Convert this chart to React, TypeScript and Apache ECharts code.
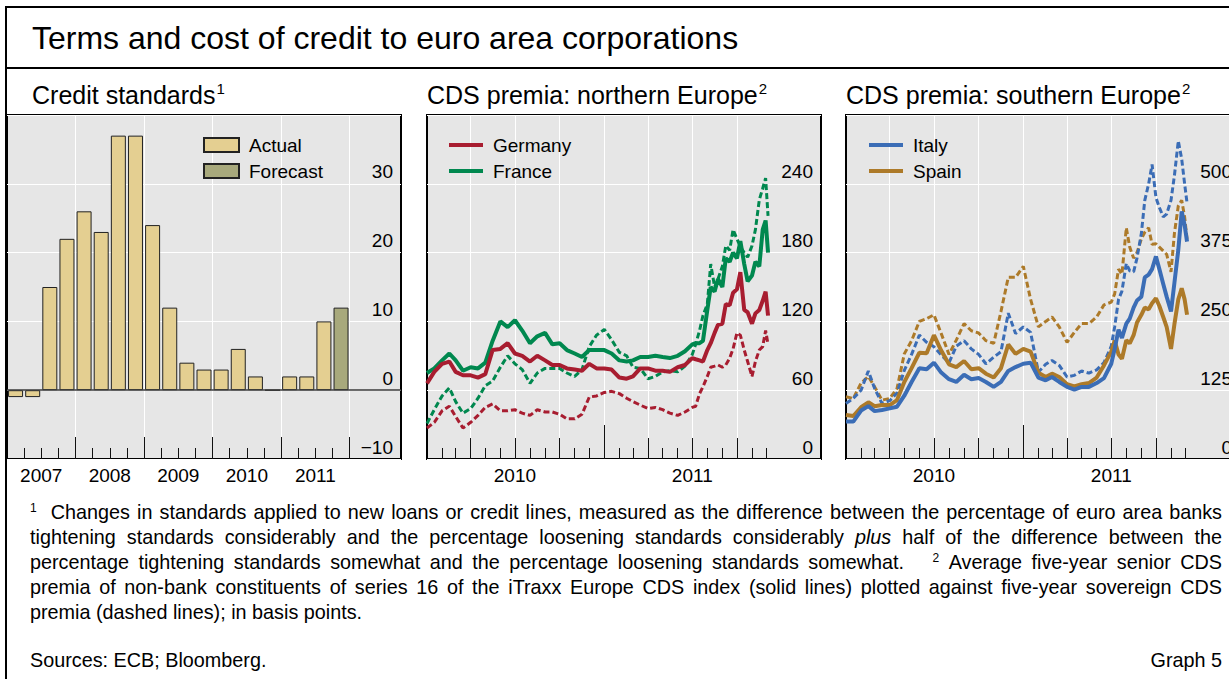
import React, { useEffect, useRef } from 'react';
import * as echarts from 'echarts';

const FONT = '"Liberation Sans", Arial, Helvetica, sans-serif';

// ---------- Panel 1: credit standards (quarterly) ----------
const quarters = [
  '2007 Q1', '2007 Q2', '2007 Q3', '2007 Q4',
  '2008 Q1', '2008 Q2', '2008 Q3', '2008 Q4',
  '2009 Q1', '2009 Q2', '2009 Q3', '2009 Q4',
  '2010 Q1', '2010 Q2', '2010 Q3', '2010 Q4',
  '2011 Q1', '2011 Q2', '2011 Q3', '2011 Q4',
];
const creditActual = [-1, -1, 15, 22, 26, 23, 37, 37, 24, 12, 4, 3, 3, 6, 2, 0, 2, 2, 10, null];
const creditForecast = [null, null, null, null, null, null, null, null, null, null, null, null, null, null, null, null, null, null, null, 12];

// ---------- Panels 2 and 3: CDS premia (basis points) ----------
const cdsDates = [
  '2010-01-01', '2010-01-16', '2010-02-01', '2010-02-16', '2010-03-01', '2010-03-16', '2010-04-01', '2010-04-16', '2010-05-01', '2010-05-16',
  '2010-06-01', '2010-06-16', '2010-07-01', '2010-07-16', '2010-08-01', '2010-08-16', '2010-09-01', '2010-09-16', '2010-10-01', '2010-10-16',
  '2010-11-01', '2010-11-16', '2010-12-01', '2010-12-16', '2011-01-01', '2011-01-16', '2011-02-01', '2011-02-16', '2011-03-01', '2011-03-16',
  '2011-04-01', '2011-04-16', '2011-05-01', '2011-05-16', '2011-06-01', '2011-06-16',
  '2011-07-01', '2011-07-08', '2011-07-16', '2011-07-23', '2011-08-01', '2011-08-08', '2011-08-16', '2011-08-23', '2011-09-01', '2011-09-08',
  '2011-09-16', '2011-09-23', '2011-10-01', '2011-10-08', '2011-10-16', '2011-10-23', '2011-11-01', '2011-11-08', '2011-11-16', '2011-11-23',
  '2011-11-29', '2011-12-04',
];
// corporate (solid)
const germanyCorp = [66, 76, 83, 85, 76, 73, 73, 71, 74, 95, 96, 101, 92, 90, 85, 90, 86, 82, 82, 79, 78, 77, 83, 79, 79, 78, 71, 70, 72, 79, 79, 77, 77, 76, 80, 82,
  88, 87, 86, 85, 95, 101, 110, 117, 118, 135, 134, 145, 148, 163, 130, 128, 118, 127, 130, 138, 146, 125];
const franceCorp = [75, 79, 86, 92, 86, 77, 80, 79, 84, 103, 120, 115, 121, 112, 101, 107, 110, 100, 101, 95, 92, 89, 95, 95, 95, 92, 86, 85, 86, 89, 89, 90, 89, 88, 90, 94,
  100, 101, 101, 103, 130, 150, 146, 157, 150, 175, 172, 180, 175, 190, 170, 155, 160, 172, 168, 200, 208, 180];
// sovereign (dashed)
const germanySov = [27, 32, 42, 46, 37, 27, 32, 38, 45, 48, 42, 42, 43, 40, 38, 43, 41, 41, 39, 35, 35, 39, 54, 55, 58, 59, 57, 53, 50, 47, 44, 45, 43, 40, 38, 41,
  45, 46, 57, 63, 72, 80, 81, 82, 80, 82, 88, 96, 110, 108, 95, 85, 72, 85, 95, 98, 112, 100];
const franceSov = [31, 43, 55, 62, 50, 40, 44, 53, 64, 68, 80, 90, 83, 78, 66, 75, 79, 79, 79, 75, 72, 78, 98, 108, 113, 104, 93, 90, 80, 79, 70, 72, 76, 77, 76, 81,
  91, 100, 112, 125, 135, 170, 150, 157, 168, 186, 182, 200, 192, 185, 180, 176, 186, 200, 226, 236, 245, 212];
const italyCorp = [68, 68, 88, 96, 87, 89, 92, 95, 115, 140, 165, 163, 175, 157, 145, 140, 153, 145, 147, 140, 131, 140, 160, 167, 173, 175, 148, 143, 149, 140, 131, 126, 131, 131, 138, 147,
  173, 200, 235, 220, 246, 255, 275, 288, 295, 330, 335, 345, 368, 345, 318, 295, 268, 320, 380, 450, 425, 395];
const spainCorp = [80, 78, 94, 103, 96, 98, 98, 107, 140, 165, 193, 192, 225, 197, 172, 167, 178, 163, 165, 155, 148, 165, 208, 191, 200, 195, 157, 149, 155, 149, 136, 132, 136, 138, 148, 170,
  195, 215, 190, 182, 216, 210, 225, 248, 262, 275, 272, 283, 292, 278, 258, 240, 200, 245, 290, 310, 290, 262];
const italySov = [101, 110, 125, 160, 128, 101, 106, 120, 161, 190, 225, 212, 204, 189, 175, 205, 215, 200, 190, 173, 185, 195, 265, 228, 240, 230, 158, 172, 179, 170, 149, 152, 160, 156, 162, 175,
  205, 240, 290, 305, 355, 342, 340, 365, 410, 470, 500, 535, 475, 457, 440, 445, 470, 515, 578, 545, 500, 465];
const spainSov = [113, 110, 138, 150, 131, 107, 110, 128, 191, 215, 250, 255, 262, 228, 190, 216, 246, 233, 229, 215, 210, 268, 330, 330, 350, 290, 240, 250, 258, 240, 212, 230, 246, 246, 258, 280,
  285, 300, 345, 336, 420, 385, 365, 375, 400, 412, 420, 390, 391, 385, 378, 372, 340, 410, 460, 470, 440, 400];

const footnoteLines = [
  'Changes in standards applied to new loans or credit lines, measured as the difference between the percentage of euro area banks',
  'tightening standards considerably and the percentage loosening standards considerably |plus| half of the difference between the',
  'percentage tightening standards somewhat and the percentage loosening standards somewhat.',
  'Average five-year senior CDS',
  'premia of non-bank constituents of series 16 of the iTraxx Europe CDS index (solid lines) plotted against five-year sovereign CDS',
  'premia (dashed lines); in basis points.',
];

const COLORS = {
  germany: '#A81D30',
  france: '#00884F',
  italy: '#3B6DB6',
  spain: '#AD7A29',
  actual: '#E4CF91',
  forecast: '#A8A97C',
  plot: '#E6E6E6',
};

const parseDay = (s: string) => {
  const [y, m, d] = s.split('-').map(Number);
  return new Date(y, m - 1, d).getTime();
};

function buildOption() {
  const grids = [7, 427, 846].map((left) => ({
    left, top: 115, width: 394, height: 344,
    show: true, backgroundColor: COLORS.plot, borderColor: '#000', borderWidth: 2,
    containLabel: false, outerBoundsMode: 'none',
  }));

  const tickStyle = (len: number) => ({ show: true, inside: true, length: len, lineStyle: { color: '#111', width: 1 } });
  const labelBase = { fontSize: 19, color: '#000', fontFamily: FONT, margin: 7 };

  // Panel 1 x axes (quarter units)
  const n = quarters.length + 3;
  const longQ: number[] = [];
  const shortQ: number[] = [];
  const labelQ: number[] = [];
  quarters.forEach((q, i) => {
    if (q.endsWith('Q3')) labelQ.push(i);
    if (i === 0) return;
    if (q.endsWith('Q1')) longQ.push(i); else shortQ.push(i);
  });
  longQ.push(quarters.length);

  const baseX = (gridIndex: number, min: number, max: number) => ({
    type: 'value', gridIndex, min, max, position: 'bottom',
    axisLine: { show: false, onZero: false },
    splitLine: { show: false },
    axisLabel: { show: false },
    axisTick: { show: false },
  });

  const xAxes: any[] = [];
  // 0: panel 1 main
  xAxes.push({
    ...baseX(0, 0, n),
    axisTick: { ...tickStyle(22), customValues: longQ },
    splitLine: { show: true, lineStyle: { color: '#fff', width: 1 } },
    axisLabel: { ...labelBase, show: true, customValues: labelQ, formatter: (v: number) => quarters[Math.round(v)].slice(0, 4) },
  });
  // 1: panel 1 short ticks
  xAxes.push({ ...baseX(0, 0, n), axisTick: { ...tickStyle(11), customValues: shortQ } });

  // Date axes for panels 2 & 3 (timestamps on value axes)
  const tMin = parseDay('2010-01-01');
  const tMax = parseDay('2012-03-22');
  const shortM: number[] = [];
  const longM: number[] = [];
  for (let y = 2010; y <= 2011; y++) {
    for (let m = 1; m <= 12; m++) {
      if (y === 2010 && m === 1) continue;
      const t = parseDay(`${y}-${m}-1`);
      if (m === 1 || m === 4 || m === 7 || m === 10) longM.push(t); else shortM.push(t);
    }
  }
  const yearStart = [parseDay('2011-01-01')];
  const labelM = [parseDay('2010-07-01'), parseDay('2011-07-01')];

  [1, 2].forEach((g) => {
    xAxes.push({
      ...baseX(g, tMin, tMax),
      axisTick: { ...tickStyle(21), customValues: longM },
      splitLine: { show: true, lineStyle: { color: '#fff', width: 1 } },
      axisLabel: { ...labelBase, show: true, customValues: labelM, formatter: (v: number) => String(new Date(v).getFullYear()) },
    });
    xAxes.push({ ...baseX(g, tMin, tMax), axisTick: { ...tickStyle(11), customValues: shortM } });
    xAxes.push({ ...baseX(g, tMin, tMax), axisTick: { ...tickStyle(34), customValues: yearStart } });
  });

  const yAxis = (gridIndex: number, min: number, max: number, interval: number) => ({
    type: 'value', gridIndex, min, max, interval, position: 'right',
    axisLine: { show: false }, axisTick: { show: false },
    splitLine: { show: true, lineStyle: { color: '#fff', width: 1 } },
    axisLabel: {
      inside: true, margin: 8, fontSize: 19, color: '#000', fontFamily: FONT,
      verticalAlign: 'bottom', lineHeight: 24, showMaxLabel: false,
      formatter: (v: number) => (v < 0 ? '\u2212' + Math.abs(v) : String(v)),
    },
  });

  const toPairs = (vals: number[]) => vals.map((v, i) => [parseDay(cdsDates[i]), v]);
  const solid = (name: string, color: string, vals: number[], x: number, y: number) => ({
    name, type: 'line', xAxisIndex: x, yAxisIndex: y, data: toPairs(vals),
    showSymbol: false, symbol: 'none', lineStyle: { color, width: 4 }, itemStyle: { color }, z: 3,
  });
  const dashed = (name: string, color: string, vals: number[], x: number, y: number) => ({
    name, type: 'line', xAxisIndex: x, yAxisIndex: y, data: toPairs(vals),
    showSymbol: false, symbol: 'none', lineStyle: { color, width: 3, type: [6, 3] }, itemStyle: { color }, z: 2,
  });

  const barPairs = (vals: (number | null)[]) =>
    vals.map((v, i) => (v === null ? null : [i + 0.5, v])).filter((p) => p !== null);

  const legendBase = {
    orient: 'vertical', top: 134, padding: 0, itemGap: 4,
    textStyle: { fontSize: 19, color: '#000', fontFamily: FONT, lineHeight: 22, padding: [0, 0, 0, 5] },
  };

  const panelTitle = (x: number, main: string, sup: string) => ({
    type: 'text', x, y: 95,
    style: {
      text: `{m|${main}}{s|${sup}}`,
      verticalAlign: 'middle',
      rich: {
        m: { fontSize: 25, fontFamily: FONT, fill: '#000', lineHeight: 28 },
        s: { fontSize: 15, fontFamily: FONT, fill: '#000', verticalAlign: 'top', lineHeight: 16, padding: [0, 0, 0, 1] },
      },
    },
  });

  return {
    animation: false,
    textStyle: { fontFamily: FONT },
    grid: grids,
    xAxis: xAxes,
    yAxis: [yAxis(0, -10, 40, 10), yAxis(1, 0, 300, 60), yAxis(2, 0, 625, 125)],
    legend: [
      { ...legendBase, left: 203, itemWidth: 35, itemHeight: 14, icon: 'rect', data: ['Actual', 'Forecast'] },
      { ...legendBase, left: 449, itemWidth: 34, itemHeight: 4, icon: 'rect', data: ['Germany', 'France'] },
      { ...legendBase, left: 869, itemWidth: 34, itemHeight: 4, icon: 'rect', data: ['Italy', 'Spain'] },
    ],
    series: [
      {
        name: 'Actual', type: 'bar', xAxisIndex: 0, yAxisIndex: 0, data: barPairs(creditActual),
        barWidth: 15, barGap: '-100%',
        itemStyle: { color: COLORS.actual, borderColor: '#222', borderWidth: 1 },
        markLine: {
          silent: true, symbol: ['none', 'none'], label: { show: false },
          lineStyle: { color: '#3a3a3a', width: 1.5, type: 'solid' },
          data: [{ yAxis: 0 }], animation: false,
        },
      },
      {
        name: 'Forecast', type: 'bar', xAxisIndex: 0, yAxisIndex: 0, data: barPairs(creditForecast),
        barWidth: 15, barGap: '-100%',
        itemStyle: { color: COLORS.forecast, borderColor: '#222', borderWidth: 1 },
      },
      dashed('Germany (sovereign)', COLORS.germany, germanySov, 2, 1),
      dashed('France (sovereign)', COLORS.france, franceSov, 2, 1),
      solid('France', COLORS.france, franceCorp, 2, 1),
      solid('Germany', COLORS.germany, germanyCorp, 2, 1),
      dashed('Spain (sovereign)', COLORS.spain, spainSov, 5, 2),
      dashed('Italy (sovereign)', COLORS.italy, italySov, 5, 2),
      solid('Spain', COLORS.spain, spainCorp, 5, 2),
      solid('Italy', COLORS.italy, italyCorp, 5, 2),
    ],
    graphic: [
      { type: 'rect', shape: { x: 6, y: 7, width: 1240, height: 700 }, style: { fill: 'none', stroke: '#000', lineWidth: 2 } },
      { type: 'line', shape: { x1: 6, y1: 68, x2: 1246, y2: 68 }, style: { stroke: '#000', lineWidth: 2 } },
      {
        type: 'text', x: 32, y: 38,
        style: { text: 'Terms and cost of credit to euro area corporations', fontSize: 32, fontFamily: FONT, fill: '#000', verticalAlign: 'middle' },
      },
      panelTitle(32, 'Credit standards', '1'),
      panelTitle(427, 'CDS premia: northern Europe', '2'),
      panelTitle(846, 'CDS premia: southern Europe', '2'),
    ],
  };
}

const FOOT_SIZE = 19.8;
const justify: React.CSSProperties = { textAlign: 'justify', textAlignLast: 'justify', whiteSpace: 'nowrap', height: 25 };
const supStyle: React.CSSProperties = { fontSize: 12, position: 'relative', top: -7 };

function renderPlus(line: string) {
  const parts = line.split('|');
  return parts.map((p, i) => (i % 2 === 1 ? <i key={i}>{p}</i> : <React.Fragment key={i}>{p}</React.Fragment>));
}

export default function App() {
  const ref = useRef<HTMLDivElement>(null);
  useEffect(() => {
    document.body.style.margin = '0';
    const chart = echarts.init(ref.current as HTMLDivElement, null, { renderer: 'svg' });
    chart.setOption(buildOption() as any);
    return () => chart.dispose();
  }, []);
  return (
    <div style={{ position: 'relative', width: 1229, height: 679, overflow: 'hidden', background: '#fff', fontFamily: FONT, color: '#000' }}>
      <div ref={ref} style={{ position: 'absolute', left: 0, top: 0, width: 1229, height: 679 }} />
      <div style={{ position: 'absolute', left: 30, top: 500, width: 1192, fontSize: FOOT_SIZE, lineHeight: '25px' }}>
        <div style={justify}>
          <span style={supStyle}>1</span>{'\u00a0 '}{footnoteLines[0]}
        </div>
        <div style={justify}>{renderPlus(footnoteLines[1])}</div>
        <div style={justify}>
          {footnoteLines[2]}{'\u00a0\u00a0 '}<span style={supStyle}>2</span>{'\u00a0'}{footnoteLines[3]}
        </div>
        <div style={justify}>{footnoteLines[4]}</div>
        <div style={{ height: 25, whiteSpace: 'nowrap' }}>{footnoteLines[5]}</div>
      </div>
      <div style={{ position: 'absolute', left: 30, top: 648, fontSize: FOOT_SIZE, lineHeight: '25px' }}>Sources: ECB; Bloomberg.</div>
      <div style={{ position: 'absolute', right: 7, top: 648, fontSize: FOOT_SIZE, lineHeight: '25px' }}>Graph 5</div>
    </div>
  );
}
